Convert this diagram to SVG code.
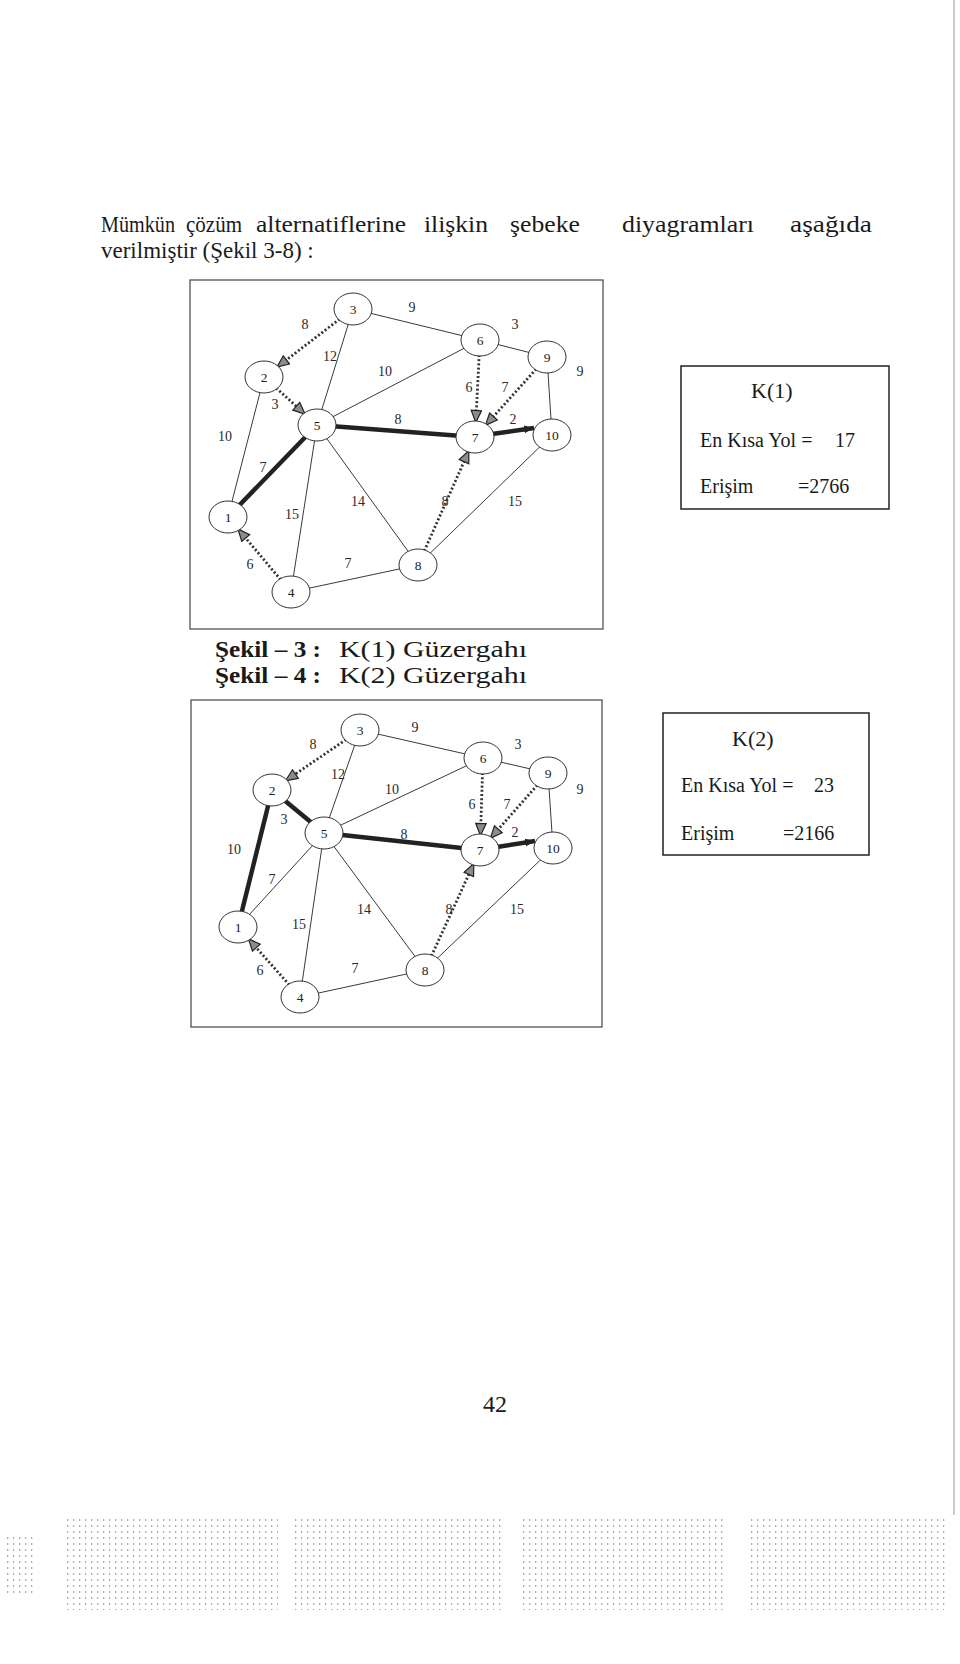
<svg xmlns="http://www.w3.org/2000/svg" width="960" height="1664" viewBox="0 0 960 1664">
<style>
text{font-family:"Liberation Serif","Times New Roman",serif;fill:#1a1a1a}
.body{font-size:23px}
.cap{font-size:23px}
.capb{font-size:23px;font-weight:bold}
.box{font-size:20px}
.boxh{font-size:22px}
.lbl{font-size:14px;text-anchor:middle;fill:#2a2a2a}
.nl{font-size:13.5px;text-anchor:middle;fill:#222}
.node ellipse{fill:#fff;stroke:#333;stroke-width:1}
.thin{stroke:#3a3a3a;stroke-width:1;fill:none}
.thick{stroke:#222;stroke-width:4.5;fill:none}
.dot{stroke:#333;stroke-width:2.8;stroke-dasharray:2 2.2;fill:none;marker-end:url(#ah)}
.frame{fill:none;stroke:#444;stroke-width:1.2}
.kbox{fill:none;stroke:#222;stroke-width:1.5}
</style>
<defs>
<marker id="ah" markerUnits="userSpaceOnUse" markerWidth="15" markerHeight="13" refX="12.5" refY="6" orient="auto">
<path d="M1,0.8 L13,6 L1,11.2 Z" fill="#8c8c8c" stroke="#222" stroke-width="1.2"/>
</marker>
<marker id="th" markerUnits="userSpaceOnUse" markerWidth="12" markerHeight="10" refX="10" refY="4" orient="auto">
<path d="M0,0 L10,4 L0,8 Z" fill="#222"/>
</marker>
<pattern id="noise" width="6" height="6" patternUnits="userSpaceOnUse">
<rect x="1" y="1" width="1.3" height="2" fill="#7a7a7a"/>
</pattern>
</defs>
<rect width="960" height="1664" fill="#fff"/>
<line x1="954" y1="0" x2="954" y2="1515" stroke="#9a9a9a" stroke-width="1"/>

<g id="header">
<text class="body" x="101" y="232" textLength="74" lengthAdjust="spacingAndGlyphs">Mümkün</text>
<text class="body" x="186" y="232" textLength="56" lengthAdjust="spacingAndGlyphs">çözüm</text>
<text class="body" x="256" y="232" textLength="150" lengthAdjust="spacingAndGlyphs">alternatiflerine</text>
<text class="body" x="424" y="232" textLength="64" lengthAdjust="spacingAndGlyphs">ilişkin</text>
<text class="body" x="510" y="232" textLength="70" lengthAdjust="spacingAndGlyphs">şebeke</text>
<text class="body" x="622" y="232" textLength="132" lengthAdjust="spacingAndGlyphs">diyagramları</text>
<text class="body" x="790" y="232" textLength="82" lengthAdjust="spacingAndGlyphs">aşağıda</text>
<text class="body" x="101" y="258">verilmiştir (Şekil 3-8) :</text>
</g>

<g id="fig1">
<rect class="frame" x="190" y="280" width="413" height="349"/>
<g id="fig1-connectors">
<line class="thin" x1="353" y1="309" x2="480" y2="340"/>
<line class="thin" x1="353" y1="309" x2="317" y2="425"/>
<line class="thin" x1="480" y1="340" x2="547" y2="357"/>
<line class="thin" x1="480" y1="340" x2="317" y2="425"/>
<line class="thin" x1="547" y1="357" x2="552" y2="435"/>
<line class="thin" x1="264" y1="377" x2="228" y2="517"/>
<line class="thin" x1="317" y1="425" x2="291" y2="592"/>
<line class="thin" x1="317" y1="425" x2="418" y2="565"/>
<line class="thin" x1="418" y1="565" x2="552" y2="435"/>
<line class="thin" x1="291" y1="592" x2="418" y2="565"/>
<line class="thick" x1="317" y1="425" x2="228" y2="517"/>
<line class="thick" x1="317" y1="425" x2="475" y2="437"/>
<line class="thick" x1="492" y1="434" x2="534" y2="428" marker-end="url(#th)"/>
<line class="dot" x1="339.7" y1="319.1" x2="277.3" y2="366.9"/>
<line class="dot" x1="276.2" y1="388" x2="304.8" y2="414"/>
<line class="dot" x1="479.2" y1="355" x2="475.8" y2="422"/>
<line class="dot" x1="536.2" y1="369" x2="485.8" y2="425"/>
<line class="dot" x1="424.3" y1="550.9" x2="468.7" y2="451.1"/>
<line class="dot" x1="280.7" y1="579.7" x2="238.3" y2="529.3"/>
</g>
<g id="fig1-labels">
<text class="lbl" x="412" y="312">9</text>
<text class="lbl" x="305" y="329">8</text>
<text class="lbl" x="330" y="361">12</text>
<text class="lbl" x="515" y="329">3</text>
<text class="lbl" x="385" y="376">10</text>
<text class="lbl" x="580" y="376">9</text>
<text class="lbl" x="469" y="392">6</text>
<text class="lbl" x="505" y="392">7</text>
<text class="lbl" x="275" y="409">3</text>
<text class="lbl" x="398" y="424">8</text>
<text class="lbl" x="513" y="424">2</text>
<text class="lbl" x="225" y="441">10</text>
<text class="lbl" x="263" y="472">7</text>
<text class="lbl" x="358" y="506">14</text>
<text class="lbl" x="445" y="506">8</text>
<text class="lbl" x="515" y="506">15</text>
<text class="lbl" x="292" y="519">15</text>
<text class="lbl" x="250" y="569">6</text>
<text class="lbl" x="348" y="568">7</text>
</g>
<g id="f1-n1" class="node"><ellipse cx="228" cy="517" rx="19" ry="16"/><text class="nl" x="228" y="521.5">1</text></g>
<g id="f1-n2" class="node"><ellipse cx="264" cy="377" rx="19" ry="16"/><text class="nl" x="264" y="381.5">2</text></g>
<g id="f1-n3" class="node"><ellipse cx="353" cy="309" rx="19" ry="16"/><text class="nl" x="353" y="313.5">3</text></g>
<g id="f1-n4" class="node"><ellipse cx="291" cy="592" rx="19" ry="16"/><text class="nl" x="291" y="596.5">4</text></g>
<g id="f1-n5" class="node"><ellipse cx="317" cy="425" rx="19" ry="16"/><text class="nl" x="317" y="429.5">5</text></g>
<g id="f1-n6" class="node"><ellipse cx="480" cy="340" rx="19" ry="16"/><text class="nl" x="480" y="344.5">6</text></g>
<g id="f1-n7" class="node"><ellipse cx="475" cy="437" rx="19" ry="16"/><text class="nl" x="475" y="441.5">7</text></g>
<g id="f1-n8" class="node"><ellipse cx="418" cy="565" rx="19" ry="16"/><text class="nl" x="418" y="569.5">8</text></g>
<g id="f1-n9" class="node"><ellipse cx="547" cy="357" rx="19" ry="16"/><text class="nl" x="547" y="361.5">9</text></g>
<g id="f1-n10" class="node"><ellipse cx="552" cy="435" rx="19" ry="16"/><text class="nl" x="552" y="439.5">10</text></g>
</g>

<g id="k1-box">
<rect class="kbox" x="681" y="366" width="208" height="143"/>
<text class="boxh" x="751" y="398">K(1)</text>
<text class="box" x="700" y="447">En Kısa Yol =</text>
<text class="box" x="835" y="447">17</text>
<text class="box" x="700" y="493">Erişim</text>
<text class="box" x="798" y="493">=2766</text>
</g>

<g id="captions">
<text class="capb" x="215" y="657" textLength="106" lengthAdjust="spacingAndGlyphs">Şekil – 3 :</text>
<text class="cap" x="339" y="657" textLength="188" lengthAdjust="spacingAndGlyphs">K(1) Güzergahı</text>
<text class="capb" x="215" y="683" textLength="106" lengthAdjust="spacingAndGlyphs">Şekil – 4 :</text>
<text class="cap" x="339" y="683" textLength="188" lengthAdjust="spacingAndGlyphs">K(2) Güzergahı</text>
</g>

<g id="fig2">
<rect class="frame" x="191" y="700" width="411" height="327"/>
<g id="fig2-connectors">
<line class="thin" x1="360" y1="730" x2="483" y2="758"/>
<line class="thin" x1="360" y1="730" x2="324" y2="833"/>
<line class="thin" x1="483" y1="758" x2="548" y2="773"/>
<line class="thin" x1="483" y1="758" x2="324" y2="833"/>
<line class="thin" x1="548" y1="773" x2="553" y2="848"/>
<line class="thin" x1="324" y1="833" x2="238" y2="927"/>
<line class="thin" x1="324" y1="833" x2="300" y2="997"/>
<line class="thin" x1="324" y1="833" x2="425" y2="970"/>
<line class="thin" x1="425" y1="970" x2="553" y2="848"/>
<line class="thin" x1="300" y1="997" x2="425" y2="970"/>
<line class="thick" x1="272" y1="790" x2="238" y2="927"/>
<line class="thick" x1="272" y1="790" x2="324" y2="833"/>
<line class="thick" x1="324" y1="833" x2="480" y2="850"/>
<line class="thick" x1="497" y1="847" x2="535" y2="841" marker-end="url(#th)"/>
<line class="dot" x1="346.1" y1="739.5" x2="285.9" y2="780.5"/>
<line class="dot" x1="482.5" y1="773" x2="480.5" y2="835"/>
<line class="dot" x1="537.3" y1="785.1" x2="490.7" y2="837.9"/>
<line class="dot" x1="431.4" y1="956" x2="473.6" y2="864"/>
<line class="dot" x1="289.3" y1="984.9" x2="248.7" y2="939.1"/>
</g>
<g id="fig2-labels">
<text class="lbl" x="415" y="732">9</text>
<text class="lbl" x="313" y="749">8</text>
<text class="lbl" x="338" y="779">12</text>
<text class="lbl" x="518" y="749">3</text>
<text class="lbl" x="392" y="794">10</text>
<text class="lbl" x="580" y="794">9</text>
<text class="lbl" x="472" y="809">6</text>
<text class="lbl" x="507" y="809">7</text>
<text class="lbl" x="284" y="824">3</text>
<text class="lbl" x="404" y="839">8</text>
<text class="lbl" x="515" y="837">2</text>
<text class="lbl" x="234" y="854">10</text>
<text class="lbl" x="272" y="884">7</text>
<text class="lbl" x="364" y="914">14</text>
<text class="lbl" x="449" y="914">8</text>
<text class="lbl" x="517" y="914">15</text>
<text class="lbl" x="299" y="929">15</text>
<text class="lbl" x="260" y="975">6</text>
<text class="lbl" x="355" y="973">7</text>
</g>
<g id="f2-n1" class="node"><ellipse cx="238" cy="927" rx="19" ry="16"/><text class="nl" x="238" y="931.5">1</text></g>
<g id="f2-n2" class="node"><ellipse cx="272" cy="790" rx="19" ry="16"/><text class="nl" x="272" y="794.5">2</text></g>
<g id="f2-n3" class="node"><ellipse cx="360" cy="730" rx="19" ry="16"/><text class="nl" x="360" y="734.5">3</text></g>
<g id="f2-n4" class="node"><ellipse cx="300" cy="997" rx="19" ry="16"/><text class="nl" x="300" y="1001.5">4</text></g>
<g id="f2-n5" class="node"><ellipse cx="324" cy="833" rx="19" ry="16"/><text class="nl" x="324" y="837.5">5</text></g>
<g id="f2-n6" class="node"><ellipse cx="483" cy="758" rx="19" ry="16"/><text class="nl" x="483" y="762.5">6</text></g>
<g id="f2-n7" class="node"><ellipse cx="480" cy="850" rx="19" ry="16"/><text class="nl" x="480" y="854.5">7</text></g>
<g id="f2-n8" class="node"><ellipse cx="425" cy="970" rx="19" ry="16"/><text class="nl" x="425" y="974.5">8</text></g>
<g id="f2-n9" class="node"><ellipse cx="548" cy="773" rx="19" ry="16"/><text class="nl" x="548" y="777.5">9</text></g>
<g id="f2-n10" class="node"><ellipse cx="553" cy="848" rx="19" ry="16"/><text class="nl" x="553" y="852.5">10</text></g>
</g>

<g id="k2-box">
<rect class="kbox" x="663" y="713" width="206" height="142"/>
<text class="boxh" x="732" y="746">K(2)</text>
<text class="box" x="681" y="792">En Kısa Yol =</text>
<text class="box" x="814" y="792">23</text>
<text class="box" x="681" y="840">Erişim</text>
<text class="box" x="783" y="840">=2166</text>
</g>

<text id="page-number" x="495" y="1412" style="font-size:24px;text-anchor:middle">42</text>

<g id="scan-noise" fill="url(#noise)" opacity="0.6">
<rect x="4" y="1535" width="32" height="60"/>
<rect x="66" y="1518" width="212" height="92"/>
<rect x="292" y="1518" width="212" height="92"/>
<rect x="520" y="1518" width="206" height="92"/>
<rect x="748" y="1518" width="200" height="92"/>
</g>
</svg>
